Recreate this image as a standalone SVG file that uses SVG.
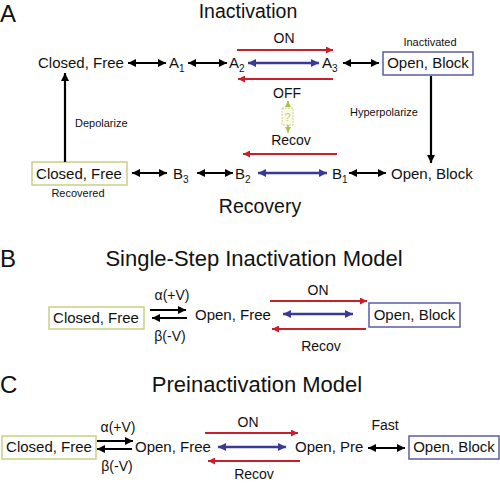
<svg xmlns="http://www.w3.org/2000/svg" width="500" height="483" viewBox="0 0 500 483">
<defs>
<marker id="hk" viewBox="0 0 10 10" refX="10" refY="5" markerUnits="userSpaceOnUse" markerWidth="9" markerHeight="8" orient="auto-start-reverse"><path d="M0,0 L10,5 L0,10 z" fill="#000"/></marker>
<marker id="hr" viewBox="0 0 10 10" refX="10" refY="5" markerUnits="userSpaceOnUse" markerWidth="7" markerHeight="7" orient="auto-start-reverse"><path d="M0,0 L10,5 L0,10 z" fill="#c8202a"/></marker>
<marker id="hb" viewBox="0 0 10 10" refX="10" refY="5" markerUnits="userSpaceOnUse" markerWidth="9" markerHeight="8" orient="auto-start-reverse"><path d="M0,0 L10,5 L0,10 z" fill="#3a3a96"/></marker>
<marker id="hg" viewBox="0 0 10 10" refX="10" refY="5" markerUnits="userSpaceOnUse" markerWidth="6" markerHeight="6" orient="auto-start-reverse"><path d="M0,0 L10,5 L0,10 z" fill="#a8c050"/></marker>
</defs>
<style>
text{font-family:"Liberation Sans",Arial,sans-serif;fill:#111}
.n{font-size:15px}
.t{font-size:19.5px}
.tt{font-size:22px}
.L{font-size:24px}
.s{font-size:11px}
.m{font-size:14px}
.k{stroke:#000;stroke-width:2.2;fill:none}
.r{stroke:#c8202a;stroke-width:2;fill:none}
.b{stroke:#3a3a96;stroke-width:2.5;fill:none}
.bx{fill:#fff;stroke:#5c5ca4;stroke-width:1.5}
.gx{fill:#fff;stroke:#c9cf82;stroke-width:1.5}
</style>

<!-- Panel A -->
<text class="L" x="0" y="22">A</text>
<text class="t" x="248" y="18" text-anchor="middle">Inactivation</text>
<text class="t" x="260" y="213" text-anchor="middle">Recovery</text>

<g id="closed-free-a"><text class="n" x="38" y="68">Closed, Free</text></g>
<g id="a1"><text class="n" x="169" y="68">A<tspan font-size="10" dy="4">1</tspan></text></g>
<g id="a2"><text class="n" x="229" y="68">A<tspan font-size="10" dy="4">2</tspan></text></g>
<g id="a3"><text class="n" x="322" y="68">A<tspan font-size="10" dy="4">3</tspan></text></g>
<g id="inactivated">
<rect class="bx" x="383" y="52" width="90" height="23"/>
<text class="n" x="428" y="68" text-anchor="middle">Open, Block</text>
<text class="s" x="430" y="46" text-anchor="middle" font-size="12">Inactivated</text>
</g>
<g id="recovered">
<rect class="gx" x="32" y="162" width="95" height="23"/>
<text class="n" x="79" y="179" text-anchor="middle">Closed, Free</text>
<text class="s" x="78" y="197" text-anchor="middle" font-size="12.5">Recovered</text>
</g>
<g id="b3"><text class="n" x="173" y="179">B<tspan font-size="10" dy="4">3</tspan></text></g>
<g id="b2"><text class="n" x="235" y="179">B<tspan font-size="10" dy="4">2</tspan></text></g>
<g id="b1"><text class="n" x="332" y="179">B<tspan font-size="10" dy="4">1</tspan></text></g>
<g id="open-block-a"><text class="n" x="391" y="179">Open, Block</text></g>
<g id="q">
<rect x="282" y="108" width="11" height="17" fill="#fafbe8" stroke="#c8d48a" stroke-width="1" stroke-dasharray="2,1"/>
<text x="287.5" y="121" text-anchor="middle" font-size="11" style="fill:#c8c878">?</text>
</g>

<g id="connectors">
<line class="k" x1="128" y1="63" x2="166" y2="63" marker-start="url(#hk)" marker-end="url(#hk)"/>
<line class="k" x1="188" y1="63" x2="227" y2="63" marker-start="url(#hk)" marker-end="url(#hk)"/>
<line class="b" x1="248" y1="63" x2="319" y2="63" marker-start="url(#hb)" marker-end="url(#hb)"/>
<line class="k" x1="343" y1="63" x2="379" y2="63" marker-start="url(#hk)" marker-end="url(#hk)"/>
<line class="r" x1="237" y1="50" x2="333" y2="50" marker-end="url(#hr)"/>
<line class="r" x1="333" y1="79" x2="238" y2="79" marker-end="url(#hr)"/>
<line class="r" x1="337" y1="154" x2="243" y2="154" marker-end="url(#hr)"/>
<line stroke="#a8c050" stroke-width="1.5" stroke-dasharray="2,1.5" x1="288" y1="101" x2="288" y2="108" marker-start="url(#hg)"/>
<line stroke="#a8c050" stroke-width="1.5" stroke-dasharray="2,1.5" x1="288" y1="125" x2="288" y2="133" marker-end="url(#hg)"/>
<line class="k" x1="132" y1="173" x2="167" y2="173" marker-start="url(#hk)" marker-end="url(#hk)"/>
<line class="k" x1="197" y1="173" x2="233" y2="173" marker-start="url(#hk)" marker-end="url(#hk)"/>
<line class="b" x1="258" y1="173" x2="327" y2="173" marker-start="url(#hb)" marker-end="url(#hb)"/>
<line class="k" x1="349" y1="173" x2="386" y2="173" marker-start="url(#hk)" marker-end="url(#hk)"/>
<line class="k" x1="65" y1="162" x2="65" y2="73" marker-end="url(#hk)"/>
<line class="k" x1="431" y1="76" x2="431" y2="163" marker-end="url(#hk)"/>
<!-- B -->
<line stroke="#000" stroke-width="1.8" x1="150" y1="310" x2="186" y2="310" marker-end="url(#hk)"/>
<line stroke="#000" stroke-width="1.8" x1="187" y1="318" x2="152" y2="318" marker-end="url(#hk)"/>
<line class="r" x1="270" y1="301" x2="367" y2="301" marker-end="url(#hr)"/>
<line class="b" x1="283" y1="314" x2="353" y2="314" marker-start="url(#hb)" marker-end="url(#hb)"/>
<line class="r" x1="366" y1="329" x2="272" y2="329" marker-end="url(#hr)"/>
<!-- C -->
<line stroke="#000" stroke-width="1.8" x1="97" y1="441" x2="133" y2="441" marker-end="url(#hk)"/>
<line stroke="#000" stroke-width="1.8" x1="132" y1="449" x2="97" y2="449" marker-end="url(#hk)"/>
<line class="r" x1="205" y1="433" x2="298" y2="433" marker-end="url(#hr)"/>
<line class="b" x1="218" y1="447" x2="286" y2="447" marker-start="url(#hb)" marker-end="url(#hb)"/>
<line class="r" x1="300" y1="461" x2="208" y2="461" marker-end="url(#hr)"/>
<line class="k" x1="368" y1="448" x2="405" y2="448" marker-start="url(#hk)" marker-end="url(#hk)"/>
</g>

<g id="labels">
<text class="m" x="284" y="43" text-anchor="middle">ON</text>
<text class="m" x="287" y="98" text-anchor="middle">OFF</text>
<text class="m" x="291" y="145" text-anchor="middle">Recov</text>
<text class="s" x="75" y="127">Depolarize</text>
<text class="s" x="350" y="116">Hyperpolarize</text>
</g>

<!-- Panel B -->
<text class="L" x="0" y="267">B</text>
<text class="tt" x="254" y="266" text-anchor="middle">Single-Step Inactivation Model</text>
<g id="b-closed">
<rect class="gx" x="49" y="307" width="95" height="22"/>
<text class="n" x="96" y="323" text-anchor="middle">Closed, Free</text>
</g>
<g id="b-open-free"><text class="n" x="195" y="320">Open, Free</text></g>
<g id="b-open-block">
<rect class="bx" x="369" y="303" width="91" height="24"/>
<text class="n" x="414.5" y="320" text-anchor="middle">Open, Block</text>
</g>
<text class="m" x="172" y="300" text-anchor="middle">α(+V)</text>
<text class="m" x="170" y="341" text-anchor="middle">β(-V)</text>
<text class="m" x="318" y="295" text-anchor="middle">ON</text>
<text class="m" x="321" y="351" text-anchor="middle">Recov</text>

<!-- Panel C -->
<text class="L" x="0" y="393">C</text>
<text class="tt" x="257" y="392" text-anchor="middle">Preinactivation Model</text>
<g id="c-closed">
<rect class="gx" x="2" y="436" width="94" height="23"/>
<text class="n" x="49" y="452" text-anchor="middle">Closed, Free</text>
</g>
<g id="c-open-free"><text class="n" x="135" y="452">Open, Free</text></g>
<g id="c-open-pre"><text class="n" x="295" y="452">Open, Pre</text></g>
<g id="c-open-block">
<rect class="bx" x="409" y="436" width="90" height="23"/>
<text class="n" x="454" y="452" text-anchor="middle">Open, Block</text>
</g>
<text class="m" x="118" y="432" text-anchor="middle">α(+V)</text>
<text class="m" x="117" y="471" text-anchor="middle">β(-V)</text>
<text class="m" x="248" y="427" text-anchor="middle">ON</text>
<text class="m" x="254" y="479" text-anchor="middle" font-size="13">Recov</text>
<text class="m" x="385" y="430" text-anchor="middle">Fast</text>
</svg>
